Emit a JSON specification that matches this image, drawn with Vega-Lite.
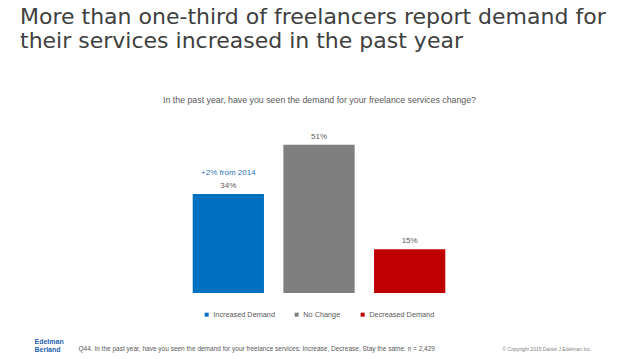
{
  "$schema": "https://vega.github.io/schema/vega-lite/v6.json",
  "width": 272,
  "height": 160,
  "autosize": {"type": "none"},
  "padding": {"left": 183, "top": 133, "right": 183, "bottom": 66},
  "background": "white",
  "config": {"view": {"stroke": null}, "font": "Liberation Sans"},
  "title": {
    "text": ["More than one-third of freelancers report demand for", "their services increased in the past year"],
    "anchor": "start",
    "frame": "group",
    "dx": -163,
    "dy": -38,
    "font": "DejaVu Sans",
    "fontSize": 22,
    "fontWeight": "normal",
    "color": "#404040",
    "lineHeight": 24
  },
  "data": {
    "values": [
      {"category": "Increased Demand", "pct": 34, "label": "34%", "note": "+2% from 2014"},
      {"category": "No Change", "pct": 51, "label": "51%", "note": ""},
      {"category": "Decreased Demand", "pct": 15, "label": "15%", "note": ""}
    ]
  },
  "layer": [
    {
      "mark": {"type": "bar"},
      "encoding": {
        "x": {
          "field": "category", "type": "nominal",
          "sort": ["Increased Demand", "No Change", "Decreased Demand"],
          "scale": {"paddingInner": 0.214, "paddingOuter": 0.107},
          "axis": {
            "orient": "bottom", "labels": false, "ticks": false, "domain": false,
            "title": "Q44. In the past year, have you seen the demand for your freelance services: Increase, Decrease, Stay the same. n = 2,429",
            "titleX": -105, "titleY": 55, "titleAlign": "left", "titleBaseline": "middle",
            "titleFontSize": 6.5, "titleFontWeight": "normal", "titleColor": "#595959"
          }
        },
        "y": {
          "field": "pct", "type": "quantitative",
          "scale": {"domain": [0, 55]},
          "axis": {
            "orient": "left", "labels": false, "ticks": false, "domain": false, "grid": false,
            "title": ["Edelman", "Berland"],
            "titleAngle": 0, "titleX": -149, "titleY": 204, "titleAlign": "left", "titleBaseline": "top",
            "titleFontSize": 7, "titleFontWeight": "bold", "titleColor": "#1f5fb0", "titleLineHeight": 8
          }
        },
        "color": {
          "field": "category", "type": "nominal",
          "sort": ["Increased Demand", "No Change", "Decreased Demand"],
          "scale": {"domain": ["Increased Demand", "No Change", "Decreased Demand"], "range": ["#0070c0", "#7f7f7f", "#c00000"]},
          "legend": {
            "orient": "none", "legendX": 20, "legendY": 178, "direction": "horizontal",
            "title": null, "symbolType": "square", "symbolSize": 16, "symbolStrokeWidth": 0,
            "labelFontSize": 7.3, "labelColor": "#595959", "columnPadding": 18, "labelOffset": 3
          }
        }
      }
    },
    {
      "mark": {"type": "text", "baseline": "bottom", "dy": -4, "fontSize": 8, "color": "#595959"},
      "encoding": {
        "x": {
          "field": "category", "type": "nominal",
          "sort": ["Increased Demand", "No Change", "Decreased Demand"],
          "axis": {
            "orient": "top", "labels": false, "ticks": false, "domain": false,
            "title": "In the past year, have you seen the demand for your freelance services change?",
            "titleY": -34, "titleBaseline": "middle",
            "titleFontSize": 8.8, "titleFontWeight": "normal", "titleColor": "#595959"
          }
        },
        "y": {
          "field": "pct", "type": "quantitative",
          "axis": {
            "orient": "right", "labels": false, "ticks": false, "domain": false, "grid": false,
            "title": "© Copyright 2015 Daniel J Edelman Inc.",
            "titleAngle": 0, "titleX": 47, "titleY": 215, "titleAlign": "left", "titleBaseline": "middle",
            "titleFontSize": 5, "titleFontWeight": "normal", "titleColor": "#7f7f7f"
          }
        },
        "text": {"field": "label"}
      }
    },
    {
      "mark": {"type": "text", "baseline": "bottom", "dy": -17, "fontSize": 8, "color": "#2e75b6"},
      "encoding": {
        "x": {"field": "category", "type": "nominal", "sort": ["Increased Demand", "No Change", "Decreased Demand"], "axis": null},
        "y": {"field": "pct", "type": "quantitative", "axis": null},
        "text": {"field": "note"}
      }
    }
  ],
  "resolve": {"axis": {"x": "independent", "y": "independent"}}
}
